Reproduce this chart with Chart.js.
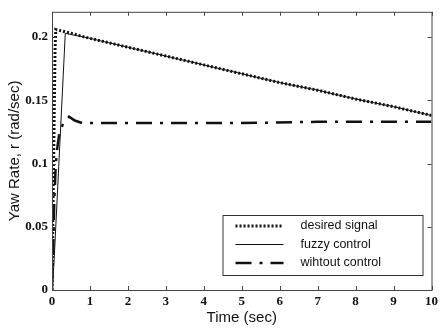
<!DOCTYPE html>
<html lang="en">
<head>
  <meta charset="UTF-8">
  <title>Yaw Rate</title>
  <script src="https://cdn.jsdelivr.net/npm/chart.js"></script>
  <style>
    html, body { margin: 0; padding: 0; background: #fff; }
    #wrap { width: 442px; height: 329px; }
  </style>
</head>
<body>
  <div id="wrap"><canvas id="chart" width="442" height="329"></canvas></div>
  <script>
    // values
    const desiredT = [0, 0.02, 0.05, 0.08, 0.1, 0.5, 1, 2, 3, 4, 5, 6, 7, 8, 9, 10]
    const desiredV = [0, 0.05, 0.12, 0.19, 0.206, 0.203, 0.199, 0.192, 0.185, 0.178, 0.171, 0.164, 0.158, 0.151, 0.145, 0.138]

    const fuzzyT = [0, 0.05, 0.35, 1, 2, 3, 4, 5, 6, 7, 8, 9, 10]
    const fuzzyV = [0, 0.02, 0.203, 0.199, 0.192, 0.185, 0.178, 0.171, 0.164, 0.158, 0.151, 0.145, 0.138]

    const noCtrlT = [0, 0.03, 0.06, 0.1, 0.15, 0.2, 0.3, 0.45, 0.6, 0.8, 1.5, 3, 5, 7, 10]
    const noCtrlV = [0, 0.03, 0.07, 0.1, 0.115, 0.125, 0.132, 0.137, 0.134, 0.132, 0.132, 0.132, 0.132, 0.133, 0.133]

    const xTicks = [0, 1, 2, 3, 4, 5, 6, 7, 8, 9, 10]
    const yTicks = [0, 0.05, 0.1, 0.15, 0.2]
    const seriesNames = ['desired signal', 'fuzzy control', 'wihtout control']

    const pts = (t, v) => t.map((x, i) => ({ x: x, y: v[i] }))

    // MATLAB style ticks pointing inward plus the box round the plot
    const frame = {
      id: 'frame',
      afterDatasetsDraw(chart) {
        const { ctx, chartArea: a, scales } = chart
        ctx.save()
        ctx.strokeStyle = '#444'
        ctx.lineWidth = 1
        ctx.strokeRect(a.left + 0.5, a.top + 0.5, a.right - a.left, a.bottom - a.top)
        ctx.beginPath()
        xTicks.forEach(v => {
          const px = Math.round(scales.x.getPixelForValue(v)) + 0.5
          ctx.moveTo(px, a.bottom); ctx.lineTo(px, a.bottom - 4)
          ctx.moveTo(px, a.top); ctx.lineTo(px, a.top + 4)
        })
        yTicks.forEach(v => {
          const py = Math.round(scales.y.getPixelForValue(v)) + 0.5
          ctx.moveTo(a.left, py); ctx.lineTo(a.left + 4, py)
          ctx.moveTo(a.right, py); ctx.lineTo(a.right - 4, py)
        })
        ctx.stroke()
        ctx.restore()
      },
      afterDraw(chart) {
        // legend box in the lower right corner
        const { ctx, chartArea: a } = chart
        const right = a.right - 9, bottom = a.bottom - 15
        const left = right - 200, top = bottom - 60
        ctx.save()
        ctx.fillStyle = '#fff'
        ctx.fillRect(left, top, right - left, bottom - top)
        ctx.strokeStyle = '#333'
        ctx.lineWidth = 1
        ctx.strokeRect(left + 0.5, top + 0.5, right - left, bottom - top)
        chart.data.datasets.forEach((ds, i) => {
          const y = top + 11 + i * 18.5
          ctx.strokeStyle = ds.borderColor
          ctx.lineWidth = ds.borderWidth
          ctx.setLineDash(ds.borderDash || [])
          ctx.beginPath()
          ctx.moveTo(left + 13, y)
          ctx.lineTo(left + 61, y)
          ctx.stroke()
          ctx.setLineDash([])
          ctx.fillStyle = '#111'
          ctx.font = '12.5px "Liberation Sans", Arial, sans-serif'
          ctx.textBaseline = 'middle'
          ctx.fillText(ds.label, left + 78, y)
        })
        ctx.restore()
      }
    }

    new Chart(document.getElementById('chart'), {
      type: 'line',
      data: {
        datasets: [
          {
            label: seriesNames[0],
            data: pts(desiredT, desiredV),
            borderColor: '#111',
            borderWidth: 3,
            borderDash: [2, 2],
            pointRadius: 0,
            tension: 0
          },
          {
            label: seriesNames[1],
            data: pts(fuzzyT, fuzzyV),
            borderColor: '#111',
            borderWidth: 1,
            pointRadius: 0,
            tension: 0
          },
          {
            label: seriesNames[2],
            data: pts(noCtrlT, noCtrlV),
            borderColor: '#111',
            borderWidth: 2.5,
            borderDash: [16, 8, 3, 8],
            pointRadius: 0,
            tension: 0
          }
        ]
      },
      options: {
        responsive: false,
        animation: false,
        layout: { padding: { top: 8, right: 4, left: 0, bottom: 0 } },
        plugins: {
          legend: { display: false },
          tooltip: { enabled: false }
        },
        scales: {
          x: {
            type: 'linear',
            min: 0,
            max: 10,
            afterBuildTicks: s => { s.ticks = xTicks.map(v => ({ value: v })) },
            afterFit: s => { s.height = 39 },
            grid: { display: false, drawTicks: false },
            border: { display: false },
            ticks: {
              padding: 4,
              color: '#111',
              font: { family: '"Liberation Serif", "Times New Roman", serif', size: 13, weight: 'bold' }
            },
            title: {
              display: true,
              text: 'Time (sec)',
              color: '#111',
              padding: { top: 0, bottom: 2 },
              font: { family: '"Liberation Sans", Arial, sans-serif', size: 15 }
            }
          },
          y: {
            min: 0,
            max: 0.22,
            afterBuildTicks: s => { s.ticks = yTicks.map(v => ({ value: v })) },
            afterFit: s => { s.width = 52 },
            grid: { display: false, drawTicks: false },
            border: { display: false },
            ticks: {
              padding: 4,
              color: '#111',
              callback: v => String(v),
              font: { family: '"Liberation Serif", "Times New Roman", serif', size: 13, weight: 'bold' }
            },
            title: {
              display: true,
              text: 'Yaw Rate, r (rad/sec)',
              color: '#111',
              padding: { top: 6, bottom: 0 },
              font: { family: '"Liberation Sans", Arial, sans-serif', size: 15 }
            }
          }
        }
      },
      plugins: [frame]
    })
  </script>
</body>
</html>
